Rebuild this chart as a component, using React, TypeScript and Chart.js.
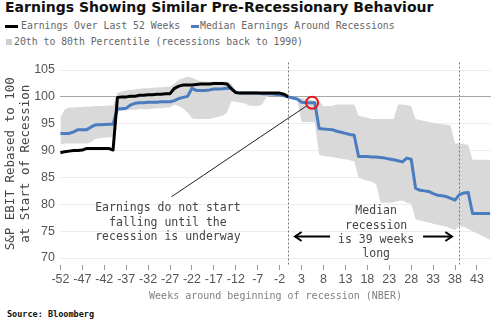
import React, { useEffect, useRef } from "react";
import { Chart, registerables } from "chart.js";

Chart.register(...registerables);

// ---------- data ----------
const weeks = [
  -52, -51, -50, -49, -48, -47, -46, -45, -44, -43, -42, -41, -40,
  -39, -38, -37, -36, -35, -34, -33, -32, -31, -30, -29, -28, -27,
  -26, -25, -24, -23, -22, -21, -20, -19, -18, -17, -16, -15, -14,
  -13, -12, -11, -10, -9, -8, -7, -6, -5, -4, -3, -2, -1, 0,
  1, 2, 3, 4, 5, 6, 7, 8, 9, 10, 11, 12, 13,
  14, 15, 16, 17, 18, 19, 20, 21, 22, 23, 24, 25, 26,
  27, 28, 29, 30, 31, 32, 33, 34, 35, 36, 37, 38, 39,
  40, 41, 42, 43, 44, 45, 46,
];

const xTickValues = [-52, -47, -42, -37, -32, -27, -22, -17, -12, -7, -2, 3, 8, 13, 18, 23, 28, 33, 38, 43];
const yTickValues = [70, 75, 80, 85, 90, 95, 100, 105];

// Earnings over last 52 weeks (weeks -52 .. 0)
const earningsLast52 = [
  89.6, 89.8, 89.9, 90.0, 90.0, 90.1, 90.4, 90.4, 90.4, 90.4, 90.4, 90.4, 90.1,
  99.9, 100.0, 100.0, 100.1, 100.1, 100.3, 100.3, 100.4, 100.4, 100.5, 100.5, 100.6, 100.6,
  101.6, 102.0, 102.2, 102.2, 102.2, 102.3, 102.4, 102.4, 102.4, 102.5, 102.5, 102.5, 102.4,
  101.5, 100.8, 100.7, 100.7, 100.7, 100.7, 100.7, 100.7, 100.7, 100.7, 100.7, 100.7, 100.5, 100.0,
];

// Median earnings around recessions (weeks -52 .. 46)
const medianEarnings = [
  93.2, 93.2, 93.2, 93.5, 93.9, 93.9, 93.9, 94.4, 94.8, 94.8, 94.85, 94.9, 94.9,
  97.8, 97.8, 97.9, 98.5, 98.8, 98.9, 98.9, 99.0, 99.0, 99.0, 99.1, 99.1, 99.1,
  99.3, 99.7, 99.9, 100.1, 101.6, 101.2, 101.2, 101.2, 101.3, 101.45, 101.45, 101.5, 101.6,
  101.6, 100.8, 100.7, 100.7, 100.7, 100.7, 100.7, 100.6, 100.6, 100.6, 100.5, 100.4, 100.2, 100.0,
  99.8, 99.6, 99.0, 98.9, 98.9, 98.9, 94.1, 94.0, 93.95, 93.9, 93.6, 93.4, 93.2,
  93.0, 92.85, 88.9, 88.9, 88.9, 88.8, 88.8, 88.7, 88.6, 88.45, 88.3, 88.1, 87.9,
  88.6, 88.4, 83.0, 82.6, 82.5, 82.4, 82.0, 81.7, 81.6, 81.45, 81.1, 80.8, 81.8,
  82.1, 82.2, 78.3, 78.3, 78.3, 78.3, 78.3,
];

// 80th percentile (upper edge of band)
const pct80 = [
  96.1, 97.7, 98.0, 98.0, 98.1, 98.1, 98.2, 98.2, 98.3, 98.3, 98.3, 98.4, 98.4,
  100.7, 101.0, 101.2, 101.3, 101.4, 101.5, 101.6, 101.6, 101.7, 101.75, 101.8, 101.85, 101.9,
  102.5, 103.2, 103.45, 103.75, 103.6, 103.2, 102.9, 102.8, 102.8, 102.8, 102.8, 102.8, 102.8,
  102.5, 101.0, 101.0, 100.9, 100.9, 100.8, 100.8, 100.7, 100.7, 100.7, 100.6, 100.5, 100.3, 100.0,
  99.9, 99.8, 99.8, 99.6, 99.4, 99.3, 99.2, 98.3, 98.3, 98.3, 98.6, 98.6, 98.6,
  98.6, 98.6, 96.5, 96.3, 96.1, 95.9, 95.9, 95.9, 95.9, 95.9, 95.9, 98.6, 98.6,
  98.5, 98.3, 95.9, 95.7, 95.5, 95.3, 95.2, 95.0, 94.9, 94.8, 94.65, 91.3, 91.3,
  91.2, 91.1, 88.3, 88.3, 88.3, 88.3, 88.3,
];

// 20th percentile (lower edge of band)
const pct20 = [
  91.2, 91.3, 91.3, 91.3, 91.3, 91.3, 91.3, 91.6, 92.2, 92.3, 92.4, 92.5, 92.5,
  97.3, 97.4, 97.5, 97.6, 97.6, 97.7, 97.7, 97.7, 97.8, 97.9, 97.9, 98.0, 98.0,
  98.6, 98.3, 97.8, 97.1, 96.0, 95.9, 95.9, 95.9, 95.9, 96.1, 96.3, 96.5, 97.1,
  99.2, 99.1, 98.9, 98.8, 98.4, 98.3, 98.3, 98.6, 100.0, 100.2, 100.2, 100.1, 100.0, 100.0,
  99.7, 99.5, 95.3, 95.3, 95.3, 95.3, 89.2, 89.0, 88.9, 88.8, 88.6, 88.5, 88.4,
  88.2, 88.0, 85.0, 84.6, 84.4, 84.2, 83.8, 80.3, 80.3, 80.3, 80.4, 80.6, 80.7,
  80.3, 80.1, 77.2, 77.0, 76.8, 76.6, 76.4, 76.2, 76.0, 75.8, 75.5, 75.2, 75.9,
  75.8, 75.4, 75.0, 74.6, 74.2, 73.8, 73.4,
];

const recessionStartWeek = 0;
const medianRecessionEndWeek = 39;
const earningsNote = ["Earnings do not start", "falling until the", "recession is underway"];
const durationNote = ["Median", "recession", "is 39 weeks", "long"];

const MONO = '"DejaVu Sans Mono", "Liberation Mono", monospace';

// ---------- annotation plugin ----------
function drawArrow(ctx: CanvasRenderingContext2D, x1: number, y1: number, x2: number, y2: number) {
  ctx.beginPath();
  ctx.moveTo(x1, y1);
  ctx.lineTo(x2, y2);
  ctx.stroke();
  const ang = Math.atan2(y2 - y1, x2 - x1);
  const len = 8;
  ctx.beginPath();
  ctx.moveTo(x2 - len * Math.cos(ang - 0.6), y2 - len * Math.sin(ang - 0.6));
  ctx.lineTo(x2, y2);
  ctx.lineTo(x2 - len * Math.cos(ang + 0.6), y2 - len * Math.sin(ang + 0.6));
  ctx.stroke();
}

const annotationPlugin = {
  id: "recessionAnnotations",
  afterDatasetsDraw(chart: any) {
    const { ctx, chartArea } = chart;
    const x = chart.scales.x;
    const y = chart.scales.y;
    ctx.save();

    // dotted verticals
    ctx.strokeStyle = "#777";
    ctx.lineWidth = 1;
    ctx.setLineDash([2, 2]);
    for (const w of [recessionStartWeek, medianRecessionEndWeek]) {
      const px = Math.round(x.getPixelForValue(w)) + 0.5;
      ctx.beginPath();
      ctx.moveTo(px, chartArea.top);
      ctx.lineTo(px, chartArea.bottom);
      ctx.stroke();
    }
    ctx.setLineDash([]);

    // pointer line to circle
    ctx.strokeStyle = "#222";
    ctx.lineWidth = 1;
    ctx.beginPath();
    ctx.moveTo(x.getPixelForValue(4.1), y.getPixelForValue(98.3));
    ctx.lineTo(x.getPixelForValue(-26.7), y.getPixelForValue(81.4));
    ctx.stroke();

    // red circle
    ctx.strokeStyle = "#e8141b";
    ctx.lineWidth = 2;
    ctx.beginPath();
    ctx.arc(x.getPixelForValue(5.4), y.getPixelForValue(98.9), 6, 0, Math.PI * 2);
    ctx.stroke();

    // arrows
    ctx.strokeStyle = "#000";
    ctx.lineWidth = 2;
    const ay = y.getPixelForValue(74.0);
    drawArrow(ctx, x.getPixelForValue(9.5), ay, x.getPixelForValue(1.5), ay);
    drawArrow(ctx, x.getPixelForValue(30.7), ay, x.getPixelForValue(37.3), ay);

    // texts
    ctx.fillStyle = "#444";
    ctx.font = `11.5px ${MONO}`;
    ctx.textAlign = "center";
    ctx.textBaseline = "middle";
    let ty = y.getPixelForValue(79.3);
    const ex = x.getPixelForValue(-27.5);
    earningsNote.forEach((t, i) => ctx.fillText(t, ex, ty + i * 14.7));
    ty = y.getPixelForValue(78.7);
    const mx = x.getPixelForValue(20);
    durationNote.forEach((t, i) => ctx.fillText(t, mx, ty + i * 14.4));

    ctx.restore();
  },
};

function EarningsChart() {
  const ref = useRef<HTMLCanvasElement | null>(null);
  useEffect(() => {
    if (!ref.current) return;
    const chart = new Chart(ref.current, {
      type: "line",
      data: {
        labels: weeks,
        datasets: [
          {
            label: "20th percentile",
            data: pct20,
            borderWidth: 0,
            pointRadius: 0,
            fill: false,
            order: 4,
          },
          {
            label: "20th to 80th Percentile (recessions back to 1990)",
            data: pct80,
            borderWidth: 0,
            pointRadius: 0,
            backgroundColor: "#d9d9d9",
            fill: "-1",
            order: 3,
          },
          {
            label: "Median Earnings Around Recessions",
            data: medianEarnings,
            borderColor: "#4a7cbf",
            borderWidth: 3,
            pointRadius: 0,
            fill: false,
            order: 1,
          },
          {
            label: "Earnings Over Last 52 Weeks",
            data: earningsLast52,
            borderColor: "#000",
            borderWidth: 3,
            pointRadius: 0,
            fill: false,
            order: 0,
          },
        ],
      },
      options: {
        responsive: false,
        animation: false,
        devicePixelRatio: 1,
        layout: { padding: { top: 7, right: 9, left: 0, bottom: 0 } },
        plugins: { legend: { display: false }, tooltip: { enabled: false }, title: { display: false } },
        elements: { line: { tension: 0, borderJoinStyle: "round" } },
        scales: {
          x: {
            type: "linear",
            min: -52.1,
            max: 46.2,
            afterBuildTicks: (s: any) => {
              s.ticks = xTickValues.map((v) => ({ value: v }));
            },
            afterFit: (s: any) => {
              s.height = 40;
            },
            border: { display: false },
            grid: { drawOnChartArea: false, drawTicks: true, tickLength: 5, color: "#999" },
            ticks: {
              autoSkip: false,
              maxRotation: 0,
              minRotation: 0,
              padding: 2,
              color: "#555",
              font: { family: '"Liberation Sans", Arial, sans-serif', size: 12.5 },
              callback: (v: any) => String(v),
            },
            title: {
              display: true,
              text: "Weeks around beginning of recession (NBER)",
              color: "#808080",
              font: { family: MONO, size: 10, lineHeight: 1.2 },
              padding: { top: 0, bottom: 3 },
            },
          },
          y: {
            min: 68.7,
            max: 106.4,
            afterBuildTicks: (s: any) => {
              s.ticks = yTickValues.map((v) => ({ value: v }));
            },
            afterFit: (s: any) => {
              s.width = 60;
            },
            border: { display: false },
            grid: {
              drawTicks: false,
              color: (c: any) => (c.tick && c.tick.value === 100 ? "#a6a6a6" : "#ececec"),
              lineWidth: 1,
            },
            ticks: {
              padding: 5,
              color: "#555",
              font: { family: '"Liberation Sans", Arial, sans-serif', size: 12.5 },
              callback: (v: any) => String(v),
            },
            title: {
              display: true,
              text: ["S&P EBIT Rebased to 100", "at Start of Recession"],
              color: "#444",
              font: { family: MONO, size: 12.5, lineHeight: 1.2 },
              padding: { top: 3.5, bottom: 0 },
            },
          },
        },
      },
      plugins: [annotationPlugin],
    });
    return () => chart.destroy();
  }, []);
  return <canvas ref={ref} width={500} height={255} style={{ width: 500, height: 255, display: "block" }} />;
}

export default function App() {
  const legendText: React.CSSProperties = {
    position: "absolute",
    font: `9.8px ${MONO}`,
    color: "#666",
    lineHeight: "12px",
    whiteSpace: "nowrap",
  };
  return (
    <div
      style={{
        position: "absolute",
        left: 0,
        top: 0,
        width: 500,
        height: 327,
        background: "#fff",
        overflow: "hidden",
      }}
    >
      <div
        style={{
          position: "absolute",
          left: 5,
          top: -1,
          font: 'bold 14px "DejaVu Sans", Verdana, sans-serif',
          lineHeight: "16px",
          color: "#111",
          whiteSpace: "nowrap",
        }}
      >
        Earnings Showing Similar Pre-Recessionary Behaviour
      </div>

      {/* legend row 1 */}
      <div style={{ position: "absolute", left: 5, top: 25, width: 13, height: 3, background: "#000" }} />
      <div style={{ ...legendText, left: 21, top: 20 }}>Earnings Over Last 52 Weeks</div>
      <div style={{ position: "absolute", left: 191, top: 25, width: 8, height: 3, background: "#4a7cbf" }} />
      <div style={{ ...legendText, left: 200, top: 20 }}>Median Earnings Around Recessions</div>

      {/* legend row 2 */}
      <div style={{ position: "absolute", left: 6, top: 39, width: 6, height: 6, background: "#cfcfcf" }} />
      <div style={{ ...legendText, left: 14, top: 36 }}>20th to 80th Percentile (recessions back to 1990)</div>

      <div style={{ position: "absolute", left: 0, top: 50, width: 500, height: 255 }}>
        <EarningsChart />
      </div>

      <div
        style={{
          position: "absolute",
          left: 7,
          top: 308,
          font: `bold 8.5px ${MONO}`,
          lineHeight: "12px",
          color: "#111",
          whiteSpace: "nowrap",
        }}
      >
        Source: Bloomberg
      </div>
    </div>
  );
}
